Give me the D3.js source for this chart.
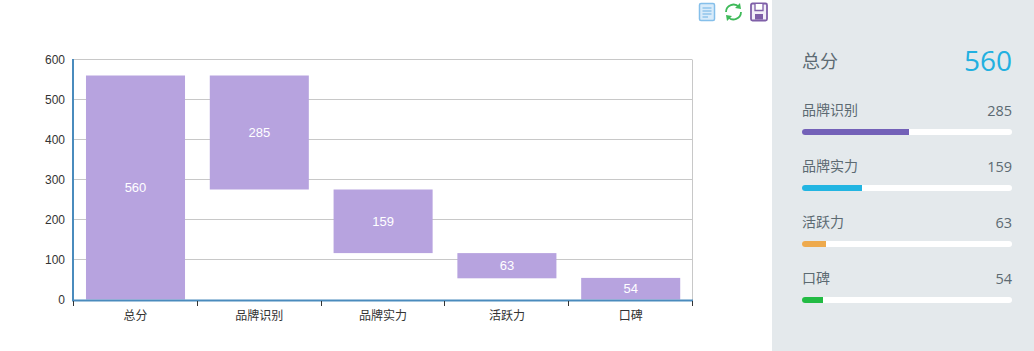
<!DOCTYPE html>
<html><head><meta charset="utf-8">
<script src="https://cdnjs.cloudflare.com/ajax/libs/d3/7.8.5/d3.min.js"></script>
<style>
html,body{margin:0;padding:0;background:#fff;overflow:hidden}
svg{display:block}
text{font-family:"Liberation Sans",Arial,"Noto Sans CJK SC",sans-serif}
.cjk{font-family:"Noto Sans CJK SC",sans-serif}
</style></head><body>
<svg id="c" width="1034" height="351"></svg>
<script>
const categories=["总分","品牌识别","品牌实力","活跃力","口碑"];
const values=[560,285,159,63,54];
const bases=[0,275,116,53,0];
const yTicks=[0,100,200,300,400,500,600];
const totalLabel="总分";
const totalValue=560;
const itemColors=["#7361b8","#22b5e2","#eeaa4d","#22bb44"];

const svg=d3.select("#c");
const x=d3.scaleBand().domain(categories).range([73.6,692.6]).paddingInner(0.2).paddingOuter(0.1);
const y=d3.scaleLinear().domain([0,600]).range([299.5,59.5]);

// grid
svg.append("g").selectAll("line").data(yTicks.slice(1)).join("line")
  .attr("x1",73).attr("x2",692).attr("y1",d=>y(d)).attr("y2",d=>y(d))
  .attr("stroke","#c8c8c8").attr("stroke-width",1);
svg.append("line").attr("x1",692.5).attr("x2",692.5).attr("y1",59.5).attr("y2",300).attr("stroke","#c8c8c8");

// bars
svg.append("g").selectAll("rect").data(categories).join("rect")
  .attr("x",d=>x(d)).attr("width",x.bandwidth())
  .attr("y",(d,i)=>y(bases[i]+values[i]))
  .attr("height",(d,i)=>y(bases[i])-y(bases[i]+values[i]))
  .attr("fill","#b7a3df");
svg.append("g").selectAll("text").data(categories).join("text")
  .attr("x",d=>x(d)+x.bandwidth()/2)
  .attr("y",(d,i)=>(y(bases[i])+y(bases[i]+values[i]))/2+4.5)
  .attr("text-anchor","middle").attr("fill","#fff").attr("font-size",13)
  .text((d,i)=>values[i]);

// y axis
const gy=svg.append("g").attr("transform","translate(73,0)")
  .call(d3.axisLeft(y).tickValues(yTicks).tickSize(0).tickPadding(8));
gy.select(".domain").attr("stroke","#4a8bbd").attr("stroke-width",2).attr("d","M0,59V300");
gy.selectAll("text").attr("font-size",12).attr("fill","#333").attr("font-family",'"Liberation Sans",Arial,sans-serif');

// x axis
const gx=svg.append("g").attr("transform","translate(0,300.5)")
  .call(d3.axisBottom(x).tickSize(0).tickPadding(11));
gx.select(".domain").attr("stroke","#4a8bbd").attr("stroke-width",2).attr("d","M72,0H693");
gx.selectAll("text").attr("font-size",12).attr("fill","#333").attr("class","cjk");
const step=x.step();
svg.append("g").selectAll("line").data(d3.range(categories.length+1)).join("line")
  .attr("x1",i=>73.5+Math.round(i*step)).attr("x2",i=>73.5+Math.round(i*step))
  .attr("y1",301).attr("y2",306).attr("stroke","#333");

// side panel
svg.append("rect").attr("x",772).attr("y",0).attr("width",262).attr("height",351).attr("fill","#e4e9ec");
svg.append("text").attr("class","cjk").attr("x",802).attr("y",68).attr("font-size",18).attr("fill","#5c6a72").text(totalLabel);
svg.append("text").attr("x",1012).attr("y",71).attr("text-anchor","end").attr("font-size",28)
  .attr("style",'font-family:"Open Sans",sans-serif').attr("fill","#22b0e0").text(totalValue);

const w=d3.scaleLinear().domain([0,totalValue]).range([0,210]);
const items=categories.slice(1);
const rowY=d3.scalePoint().domain(items).range([110,278]);
const row=svg.append("g").selectAll("g").data(items).join("g");
row.append("text").attr("class","cjk").attr("x",802).attr("y",d=>rowY(d)+5).attr("font-size",14).attr("fill","#5c6a72").text(d=>d);
row.append("text").attr("x",1012).attr("y",d=>rowY(d)+5.5).attr("text-anchor","end").attr("font-size",14.5)
  .attr("style",'font-family:"Open Sans",sans-serif').attr("fill","#5c6a72").text((d,i)=>values[i+1]);
row.append("rect").attr("x",802).attr("y",d=>rowY(d)+19).attr("width",210).attr("height",6).attr("rx",3).attr("fill","#fff");
row.append("path").attr("fill",(d,i)=>itemColors[i]).attr("d",(d,i)=>{
  const t=rowY(d)+19,W=Math.ceil(w(values[i+1]));
  return `M${802+W},${t}H805A3,3 0 0 0 805,${t+6}H${802+W}Z`;
});

// toolbar icons
const ic=svg.append("g");
ic.append("rect").attr("x",699.5).attr("y",3.5).attr("width",15).attr("height",17).attr("rx",1.5).attr("fill","#d8ebfa").attr("stroke","#85bfea").attr("stroke-width",1.5);
[8,11,14,17].forEach((v,i)=>ic.append("line").attr("x1",702.5).attr("x2",i==3?708:711.5).attr("y1",v).attr("y2",v).attr("stroke","#85bfea").attr("stroke-width",1.3));
ic.append("path").attr("d","M726,12A7.5,7.5 0 0 1 739,7").attr("fill","none").attr("stroke","#3fba5a").attr("stroke-width",1.8);
ic.append("path").attr("d","M741,12A7.5,7.5 0 0 1 728,17").attr("fill","none").attr("stroke","#3fba5a").attr("stroke-width",1.8);
ic.append("path").attr("d","M735,8L741,9L740,3Z M732,16L726,15L727,21Z").attr("fill","#3fba5a");
ic.append("rect").attr("x",751).attr("y",3.5).attr("width",16).attr("height",17).attr("rx",1.5).attr("fill","#f2eef8").attr("stroke","#7f5fa8").attr("stroke-width",1.8);
ic.append("path").attr("d","M755,4V10.5H763V4").attr("fill","#fff").attr("stroke","#7f5fa8").attr("stroke-width",1.3);
ic.append("rect").attr("x",755).attr("y",14).attr("width",8).attr("height",5.5).attr("fill","#7f5fa8");
</script>
</body></html>
